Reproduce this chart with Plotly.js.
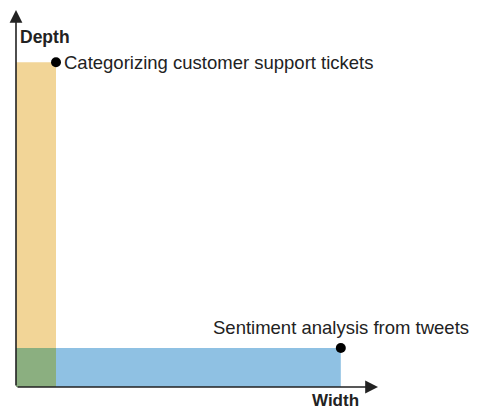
<!DOCTYPE html>
<html><head><meta charset="utf-8">
<script src="https://cdn.plot.ly/plotly-3.0.1.min.js"></script>
<style>html,body{margin:0;padding:0;background:#fff}#c{width:477px;height:409px}</style>
</head><body><div id="c"></div>
<script>
const tasks = ["Categorizing customer support tickets", "Sentiment analysis from tweets"];
const widths = [1, 8.12];
const depths = [8.33, 1];
const xLabel = "Width";
const yLabel = "Depth";

const xMax = 9.05, yMax = 9.67;
const rectColors = ["#F2D597", "#8FC1E3"];
const overlapColor = "#8BAF80";

function rect(w, d, color) {
  return {type: "scatter", mode: "lines", x: [0, w, w, 0, 0], y: [0, 0, d, d, 0],
    fill: "toself", fillcolor: color, line: {width: 0}, hoverinfo: "skip", showlegend: false};
}
const traces = [];
tasks.forEach((t, i) => traces.push(rect(widths[i], depths[i], rectColors[i])));
traces.push(rect(Math.min(...widths), Math.min(...depths), overlapColor));
traces.push({type: "scatter", mode: "markers", x: widths, y: depths, text: tasks,
  marker: {color: "#000", size: 10}, showlegend: false, cliponaxis: false});

const font = {family: "Liberation Sans, Arial, sans-serif", color: "#222"};
const annotations = [
  {x: widths[0], y: depths[0], xref: "x", yref: "y", text: tasks[0], showarrow: false,
   xanchor: "left", yanchor: "middle", xshift: 6, font: Object.assign({size: 18.5}, font)},
  {x: widths[1], y: depths[1], xref: "x", yref: "y", text: tasks[1], showarrow: false,
   xanchor: "center", yanchor: "middle", yshift: 21, font: Object.assign({size: 18.5}, font)},
  {x: xMax, y: 0, ax: 0, ay: 0, xref: "x", yref: "y", axref: "x", ayref: "y", text: "",
   showarrow: true, arrowhead: 2, arrowsize: 1.6, arrowwidth: 1.6, arrowcolor: "#222"},
  {x: 0, y: yMax, ax: 0, ay: 0, xref: "x", yref: "y", axref: "x", ayref: "y", text: "",
   showarrow: true, arrowhead: 2, arrowsize: 1.6, arrowwidth: 1.6, arrowcolor: "#222"},
  {x: 7.98, y: 0, xref: "x", yref: "y", text: "<b>" + xLabel + "</b>", showarrow: false,
   xanchor: "center", yanchor: "middle", yshift: -13, borderpad: 0, font: Object.assign({size: 17}, font)},
  {x: 0, y: yMax, xref: "x", yref: "y", text: "<b>" + yLabel + "</b>", showarrow: false,
   xanchor: "left", yanchor: "middle", xshift: 2, yshift: -27, font: Object.assign({size: 17.5}, font)}
];

const layout = {
  width: 477, height: 409,
  margin: {l: 16, r: 99, t: 10, b: 22},
  paper_bgcolor: "#fff", plot_bgcolor: "#fff",
  xaxis: {range: [0, xMax], showgrid: false, zeroline: false, showticklabels: false, ticks: "", showline: false, fixedrange: true},
  yaxis: {range: [0, yMax], showgrid: false, zeroline: false, showticklabels: false, ticks: "", showline: false, fixedrange: true},
  annotations: annotations,
  showlegend: false
};
Plotly.newPlot("c", traces, layout, {displayModeBar: false, staticPlot: true});
</script></body></html>
